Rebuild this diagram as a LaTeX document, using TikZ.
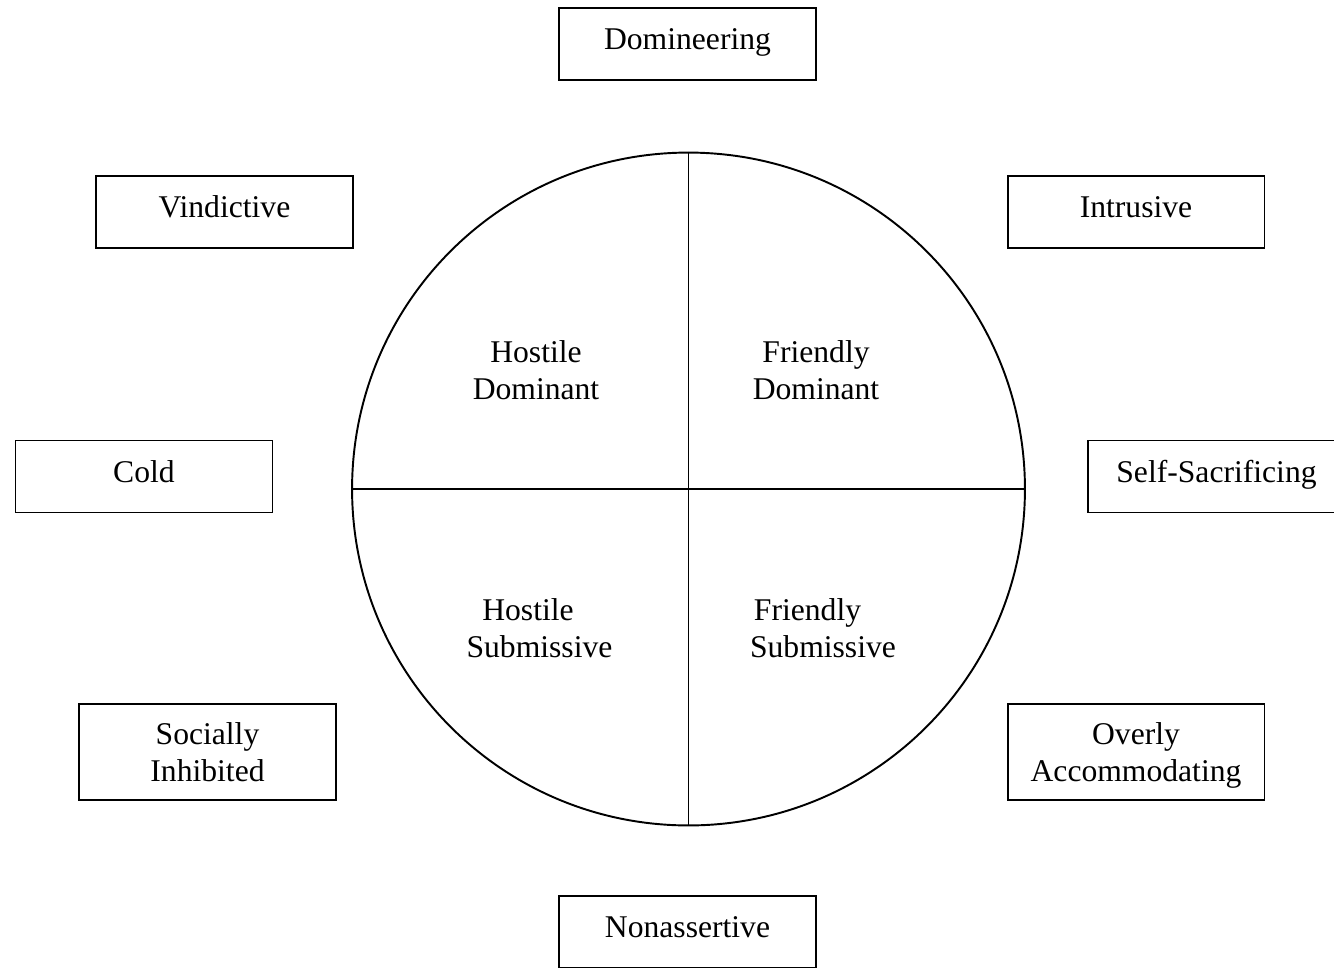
\documentclass[tikz,border=0pt]{standalone}
\usepackage{fontspec}
\setmainfont{Liberation Serif}

\begin{document}
\begin{tikzpicture}[x=0.02cm,y=-0.02cm,
  trait/.style={draw,line width=1.1pt,minimum width=5.14cm,minimum height=1.44cm,inner sep=0pt,align=center,text height=12.5pt,text depth=6pt,font=\fontsize{18}{21}\selectfont},
  traittall/.style={draw,line width=1.1pt,minimum width=5.14cm,minimum height=1.92cm,inner sep=0pt,align=center,font=\fontsize{18}{21}\selectfont},
  quad/.style={align=center,font=\fontsize{18}{21}\selectfont}]
  \useasboundingbox (0,0) rectangle (1334,967);
  % the circle and its quarters
  \node[circle,draw,line width=1.1pt,minimum size=13.46cm,inner sep=0pt] (wheel) at (688.5,489) {};
  \draw[line width=1.1pt] (wheel.north) -- (wheel.south);
  \draw[line width=1.1pt] (wheel.west) -- (wheel.east);
  \node[quad] (hd) at (536,370) {Hostile\\Dominant};
  \node[quad] (fd) at (816,370) {Friendly\\Dominant};
  \node[quad] (hs) at (539.5,628) {Hostile\hspace*{0.46cm}\\Submissive};
  \node[quad] (fs) at (823,628) {Friendly\hspace*{0.62cm}\\Submissive};
  % the traits round it
  \node[trait] (dom) at (687.5,44) {Domineering};
  \node[trait] (vin) at (224.5,212) {Vindictive};
  \node[trait] (intr) at (1136,212) {Intrusive};
  \node[trait] (cold) at (144,476.5) {Cold};
  \node[trait] (self) at (1216.5,476.5) {Self-Sacrificing};
  \node[traittall] (soc) at (207.5,752) {Socially\\Inhibited};
  \node[traittall] (over) at (1136,752) {Overly\\\raisebox{0pt}[\height][0pt]{Accommodating}};
  \node[trait] (non) at (687.5,932) {Nonassertive};
\end{tikzpicture}
\end{document}
